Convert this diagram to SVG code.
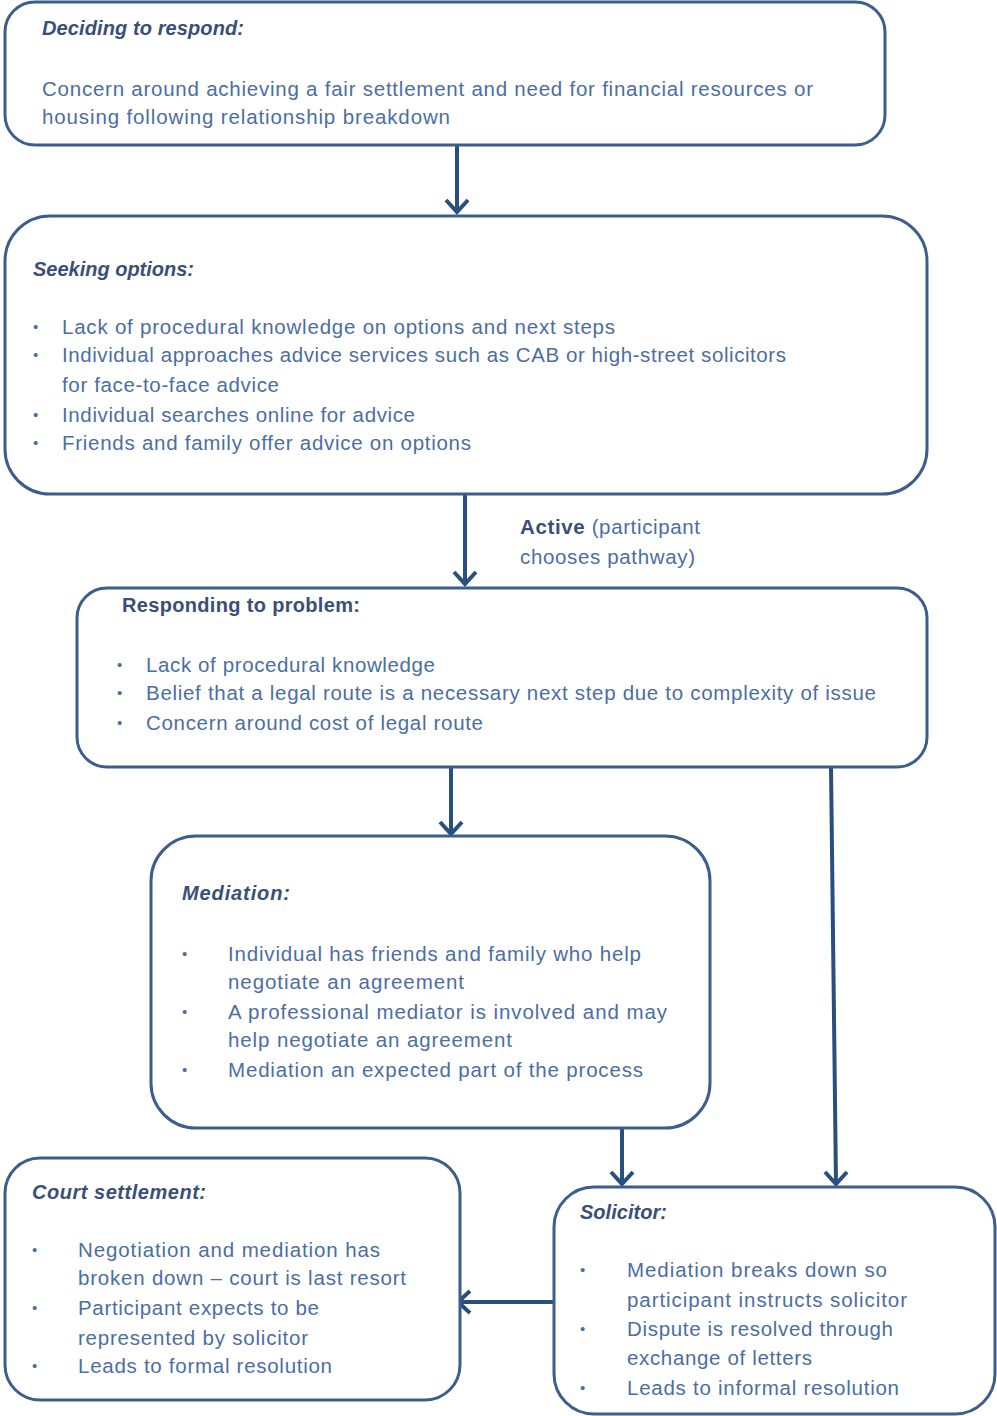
<svg xmlns="http://www.w3.org/2000/svg" width="997" height="1416" viewBox="0 0 997 1416">
<defs>
<style>
.box{fill:#fff;stroke:#3b5e8c;stroke-width:3}
.t{font-family:"Liberation Sans",Arial,sans-serif;font-size:20.5px;fill:#4b6ea3}
.h{font-family:"Liberation Sans",Arial,sans-serif;font-size:20px;fill:#3a4f78;font-weight:bold}
.hi{font-style:italic}
.b{font-family:"Liberation Sans",Arial,sans-serif;font-size:15px;fill:#4b6ea3}
.c{stroke:#284f80;stroke-width:4;fill:none}
.act{font-weight:bold;fill:#3a4f78}
</style>
</defs>
<rect width="997" height="1416" fill="#fff"/>
<g id="connectors">
<path class="c" d="M457 145V212M446 200L457 212L468 200"/>
<path class="c" d="M465 495V584M454 572L465 584L476 572"/>
<path class="c" d="M451 767V834M440 822L451 834L462 822"/>
<path class="c" d="M831 767L836 1184M825 1172L836 1184L847 1172"/>
<path class="c" d="M622 1129V1184M611 1172L622 1184L633 1172"/>
<path class="c" d="M554 1302H458M470 1291L458 1302L470 1313"/>
<text class="t" x="520" y="534" textLength="180"><tspan class="act">Active</tspan> (participant</text>
<text class="t" x="520" y="564" textLength="175">chooses pathway)</text>
</g>
<g id="deciding">
<rect class="box" x="5" y="2" width="880" height="143" rx="30"/>
<text class="h hi" x="42" y="35" textLength="202">Deciding to respond:</text>
<text class="t" x="42" y="96" textLength="771">Concern around achieving a fair settlement and need for financial resources or</text>
<text class="t" x="42" y="124" textLength="408">housing following relationship breakdown</text>
</g>
<g id="seeking">
<rect class="box" x="5" y="216" width="922" height="278" rx="45"/>
<text class="h hi" x="33" y="276" textLength="161">Seeking options:</text>
<text class="b" x="33" y="332">•</text>
<text class="t" x="62" y="334" textLength="553">Lack of procedural knowledge on options and next steps</text>
<text class="b" x="33" y="360">•</text>
<text class="t" x="62" y="362" textLength="724">Individual approaches advice services such as CAB or high-street solicitors</text>
<text class="t" x="62" y="392" textLength="217">for face-to-face advice</text>
<text class="b" x="33" y="420">•</text>
<text class="t" x="62" y="422" textLength="353">Individual searches online for advice</text>
<text class="b" x="33" y="448">•</text>
<text class="t" x="62" y="450" textLength="409">Friends and family offer advice on options</text>
</g>
<g id="responding">
<rect class="box" x="77" y="588" width="850" height="179" rx="30"/>
<text class="h" x="122" y="612" textLength="238">Responding  to problem:</text>
<text class="b" x="117" y="670">•</text>
<text class="t" x="146" y="672" textLength="289">Lack of procedural knowledge</text>
<text class="b" x="117" y="698">•</text>
<text class="t" x="146" y="700" textLength="730">Belief that a legal route is a necessary next step due to complexity of issue</text>
<text class="b" x="117" y="728">•</text>
<text class="t" x="146" y="730" textLength="337">Concern around cost of legal route</text>
</g>
<g id="mediation">
<rect class="box" x="151" y="836" width="559" height="292" rx="45"/>
<text class="h hi" x="182" y="900" textLength="108">Mediation:</text>
<text class="b" x="182" y="959">•</text>
<text class="t" x="228" y="961" textLength="413">Individual has friends and family who help</text>
<text class="t" x="228" y="989" textLength="236">negotiate an agreement</text>
<text class="b" x="182" y="1017">•</text>
<text class="t" x="228" y="1019" textLength="439">A professional mediator is involved and  may</text>
<text class="t" x="228" y="1047" textLength="284">help negotiate an agreement</text>
<text class="b" x="182" y="1075">•</text>
<text class="t" x="228" y="1077" textLength="415">Mediation an expected part of the process</text>
</g>
<g id="court">
<rect class="box" x="5" y="1158" width="455" height="242" rx="35"/>
<text class="h hi" x="32" y="1199" textLength="174">Court settlement:</text>
<text class="b" x="32" y="1255">•</text>
<text class="t" x="78" y="1257" textLength="302">Negotiation and mediation has</text>
<text class="t" x="78" y="1285" textLength="328">broken down – court is last resort</text>
<text class="b" x="32" y="1313">•</text>
<text class="t" x="78" y="1315" textLength="241">Participant expects to be</text>
<text class="t" x="78" y="1345" textLength="230">represented by solicitor</text>
<text class="b" x="32" y="1371">•</text>
<text class="t" x="78" y="1373" textLength="254">Leads to formal resolution</text>
</g>
<g id="solicitor">
<rect class="box" x="554" y="1187" width="441" height="227" rx="40"/>
<text class="h hi" x="580" y="1219" textLength="87">Solicitor:</text>
<text class="b" x="580" y="1275">•</text>
<text class="t" x="627" y="1277" textLength="260">Mediation breaks down so</text>
<text class="t" x="627" y="1307" textLength="280">participant instructs solicitor</text>
<text class="b" x="580" y="1334">•</text>
<text class="t" x="627" y="1336" textLength="266">Dispute is resolved through</text>
<text class="t" x="627" y="1365" textLength="185">exchange of letters</text>
<text class="b" x="580" y="1393">•</text>
<text class="t" x="627" y="1395" textLength="272">Leads to informal resolution</text>
</g>
</svg>
